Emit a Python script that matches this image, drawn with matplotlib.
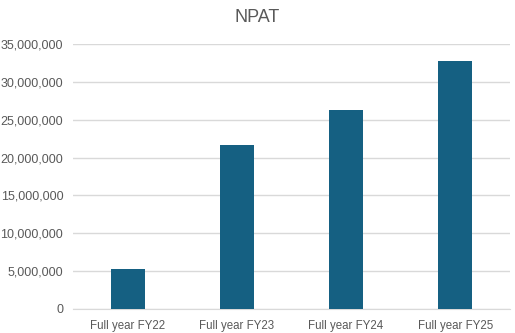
import matplotlib
matplotlib.use("Agg")
import matplotlib.pyplot as plt
from matplotlib.ticker import FuncFormatter, MultipleLocator

categories = ["Full year FY22", "Full year FY23", "Full year FY24", "Full year FY25"]
npat = [5280000, 21660000, 26300000, 32750000]
title = "NPAT"

plt.rcParams['font.family'] = ['Liberation Sans', 'DejaVu Sans']
text_color = "#595959"
grid_color = "#D9D9D9"
bar_color = "#156082"

fig = plt.figure(figsize=(5.15, 3.33), dpi=100)
ax = fig.add_axes([0.1417, 0.0721, 0.8485, 0.7958])
x = range(len(categories))
ax.bar(x, npat, width=0.31, color=bar_color, zorder=3)
ax.set_xlim(-0.5, len(categories) - 0.5)
ax.set_ylim(0, 35000000)
ax.yaxis.set_major_locator(MultipleLocator(5000000))
ax.yaxis.set_major_formatter(FuncFormatter(lambda v, p: f"{int(v):,}"))
ax.set_xticks(list(x))
ax.set_xticklabels(categories)
ax.grid(axis="y", color=grid_color, linewidth=1, zorder=0)
for s in ["top", "right", "left"]:
    ax.spines[s].set_visible(False)
ax.spines["bottom"].set_color(grid_color)
ax.tick_params(axis="both", length=0, colors=text_color)
ax.tick_params(axis="y", pad=7, labelsize=9)
ax.tick_params(axis="x", pad=8, labelsize=8.3)
fig.text(0.5, 0.948, title, ha="center", va="center", fontsize=13, color=text_color)
fig.savefig("out.png", dpi=100)
